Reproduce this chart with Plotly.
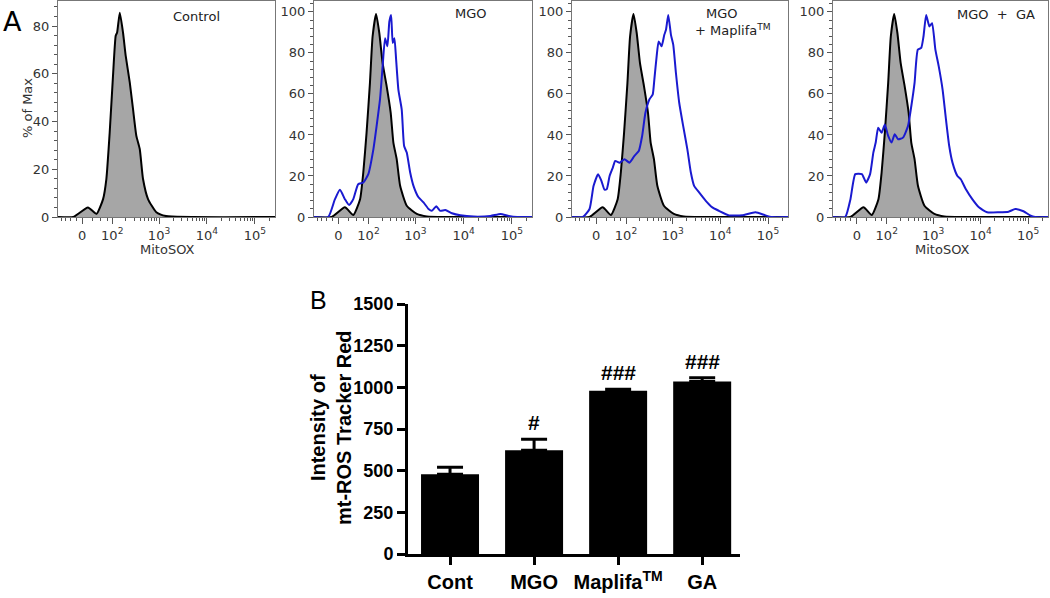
import numpy as np
import plotly.graph_objects as go

# ---- Panel A: MitoSOX histograms (% of max) ----
# x values are MitoSOX intensities, y values are % of max
control_alone_x = [-22, 14, 37, 59, 72, 87, 104, 120, 129, 148, 174, 199, 243, 285, 335, 395, 463, 589, 878, 1399]
control_alone_y = [0, 4.0, 1.3, 7.5, 15.9, 35.4, 59, 75.9, 77.3, 85.6, 77.3, 67.5, 56.4, 45.2, 34, 28.5, 15.9, 7.5, 2, 0.4]

control_x = [-16, 16, 39, 62, 75, 90, 108, 124, 148, 174, 205, 250, 304, 346, 406, 479, 658, 1064, 1720]
control_y = [0, 4.7, 1, 8.7, 21.7, 41, 65.4, 88, 99, 89.7, 75, 63.7, 50.8, 36.3, 28.2, 15.2, 5.5, 1.5, 0.3]

mgo_x = [-25, -8, 4, 16, 27, 39, 55, 75, 99, 129, 152, 180, 205, 231, 259, 285, 310, 335, 364, 395,
         441, 517, 580, 658, 775, 908, 1155, 1468, 1866, 2186, 2700, 3262, 4157, 5705, 8537, 16160,
         36000, 58160, 86600, 129000]
mgo_y = [0, 8.7, 13.3, 8.7, 5.8, 8.7, 16, 16.8, 20.9, 33, 44.3, 57.3, 73.4, 87.2, 83.2, 95.3, 98.5, 84.8,
         87.2, 76.7, 62, 52.4, 34.6, 31.4, 21.7, 15.2, 9.6, 7.1, 3.9, 3, 5.2, 3, 3.4, 1.8, 0.8, 0.2,
         0.5, 1.5, 0.5, 0]

maplifa_x = [-34, -16, -6, 5, 13, 21, 27, 35, 45, 53, 70, 92, 120, 155, 193, 228, 268, 325, 382, 414,
             463, 510, 589, 671, 728, 813, 925, 1033, 1177, 1379, 1671, 2044, 2417, 2832, 3600, 4965,
             6813, 9396, 15190, 28730, 54640, 88270, 121100]
maplifa_y = [0, 3.9, 15.2, 20.9, 17.6, 13.3, 13.6, 20, 24.1, 27.3, 26.5, 28.2, 26.5, 29.8, 32.2, 39.5,
             50.8, 57.3, 59.7, 67, 78.3, 85.6, 83.2, 88.8, 91.3, 98.5, 88.8, 84, 70.2, 55.7, 44.3, 33,
             21.7, 15.2, 12, 7.9, 4.7, 3, 0.8, 0.8, 2.3, 0.8, 0]

ga_x = [-30, -16, -4, 12, 23, 34, 44, 52, 61, 75, 90, 108, 129, 152, 180, 230, 294, 346, 406, 476, 561,
        627, 714, 837, 952, 1117, 1315, 1585, 1866, 2186, 2561, 3254, 3831, 4870, 6683, 9218, 13730,
        24060, 38870, 53600, 79820, 110100, 140000]
ga_y = [0, 8.7, 20.9, 20.9, 16.8, 20.9, 31.4, 36.3, 43.5, 41.1, 45.1, 39.5, 36.3, 40.3, 37.9, 38.7, 44.3,
        54, 65.4, 81.6, 82.4, 88, 98.5, 92.9, 94.5, 81.6, 73.4, 62.1, 47.6, 34.6, 26.5, 20, 18.4, 13.6,
        8.7, 4.7, 2.3, 2.3, 2.6, 3.9, 2.8, 0.8, 0]

x_tick_values = [0, 100, 1000, 10000, 100000]
x_tick_labels = ["0", "10<sup>2</sup>", "10<sup>3</sup>", "10<sup>4</sup>", "10<sup>5</sup>"]
x_minor_values = ([-60, -45, -30, -15, 25, 50, 75]
                  + [m * 10 ** k for k in (2, 3, 4) for m in range(2, 10)] + [200000])

# ---- Panel B: bar chart ----
bar_groups = ["<b>Cont</b>", "<b>MGO</b>", "<b>Maplifa<sup>TM</sup></b>", "<b>GA</b>"]
bar_values = [478, 622, 980, 1035]
bar_errors = [42, 66, 8, 22]
bar_marks = ["", "#", "###", "###"]
bar_y_ticks = [0, 250, 500, 750, 1000, 1250, 1500]

W, H = 1050, 598
W_LIN = 50  # width of the linear region of the arcsinh display
X_LOW, X_HIGH = -72, 262144


def to_display(v):
    """Arcsinh (biexponential-like) display transform, ~log10 for large values."""
    v = np.asarray(v, dtype=float)
    return np.log10((v + np.sqrt(v ** 2 + W_LIN ** 2)) / 2)


def px(x):
    return x / W


def py(y):
    return 1 - y / H


fig = go.Figure()

panels = [
    dict(dom=(58, 275), ymax=90.5, ctrl=(control_alone_x, control_alone_y), treat=None),
    dict(dom=(314, 532), ymax=105.3, ctrl=(control_x, control_y), treat=(mgo_x, mgo_y)),
    dict(dom=(572, 788), ymax=105.3, ctrl=(control_x, control_y), treat=(maplifa_x, maplifa_y)),
    dict(dom=(833, 1048), ymax=105.3, ctrl=(control_x, control_y), treat=(ga_x, ga_y)),
]

tick_font = dict(family="DejaVu Sans", size=13, color="#333")
for i, p in enumerate(panels):
    n = "" if i == 0 else str(i + 1)
    cx = [X_LOW] + list(p["ctrl"][0]) + [X_HIGH]
    cy = [0] + list(p["ctrl"][1]) + [0]
    fig.add_trace(go.Scatter(
        x=to_display(cx), y=cy, mode="lines", fill="tozeroy", fillcolor="#a6a6a6",
        line=dict(color="black", width=2, shape="spline", smoothing=0.5),
        xaxis="x" + n, yaxis="y" + n, showlegend=False,
    ))
    if p["treat"] is not None:
        tx = [X_LOW] + list(p["treat"][0]) + [X_HIGH]
        ty = [0] + list(p["treat"][1]) + [0]
        fig.add_trace(go.Scatter(
            x=to_display(tx), y=ty, mode="lines",
            line=dict(color="#1a1ad0", width=2, shape="spline", smoothing=0.5),
            xaxis="x" + n, yaxis="y" + n, showlegend=False,
        ))
    fig.update_layout({
        "xaxis" + n: dict(
            domain=[px(p["dom"][0]), px(p["dom"][1])], anchor="y" + n, automargin=False,
            range=[float(to_display(X_LOW)), float(to_display(X_HIGH))],
            tickmode="array", tickvals=to_display(x_tick_values), ticktext=x_tick_labels,
            ticks="outside", ticklen=6, tickcolor="#555", tickfont=tick_font,
            minor=dict(tickmode="array", tickvals=to_display(x_minor_values),
                       ticks="outside", ticklen=3, tickcolor="#555"),
            showline=True, mirror=True, linecolor="#777", linewidth=1,
            showgrid=False, zeroline=False, fixedrange=True,
        ),
        "yaxis" + n: dict(
            domain=[py(217), py(1)], anchor="x" + n, range=[0, p["ymax"]], automargin=False,
            tickmode="array", tickvals=[0, 20, 40, 60, 80, 100],
            ticks="outside", ticklen=5, tickcolor="#555", tickfont=tick_font,
            minor=dict(tickmode="linear", tick0=0, dtick=4, ticks="outside",
                       ticklen=3, tickcolor="#555"),
            showline=True, mirror=True, linecolor="#777", linewidth=1,
            showgrid=False, zeroline=False, fixedrange=True,
        ),
    })

# bar chart
fig.add_trace(go.Bar(
    x=list(range(len(bar_values))), y=bar_values, width=0.69,
    marker=dict(color="black", line=dict(width=0)),
    error_y=dict(type="data", array=bar_errors, arrayminus=[0] * len(bar_errors),
                 color="black", thickness=3, width=13),
    xaxis="x5", yaxis="y5", showlegend=False,
))
arial = "Liberation Sans, Arial"
fig.update_layout(
    xaxis5=dict(
        domain=[px(408), px(740)], anchor="y5", range=[-0.5, 3.45], automargin=False,
        tickmode="array", tickvals=list(range(len(bar_groups))), ticktext=bar_groups,
        tickfont=dict(family=arial, size=20, color="black"),
        ticks="outside", ticklen=8, tickwidth=3, tickcolor="black",
        showline=True, linecolor="black", linewidth=3,
        showgrid=False, zeroline=False, fixedrange=True,
    ),
    yaxis5=dict(
        domain=[py(554), py(304)], anchor="x5", range=[0, 1500], automargin=False,
        tickmode="array", tickvals=bar_y_ticks,
        ticktext=["<b>%d</b>" % t for t in bar_y_ticks],
        tickfont=dict(family=arial, size=18, color="black"),
        ticks="outside", ticklen=8, tickwidth=3, tickcolor="black",
        showline=True, linecolor="black", linewidth=3,
        showgrid=False, zeroline=False, fixedrange=True,
    ),
)

for i, mark in enumerate(bar_marks):
    if mark:
        fig.add_annotation(
            x=i, y=bar_values[i] + bar_errors[i], xref="x5", yref="y5", text="<b>%s</b>" % mark,
            showarrow=False, yanchor="bottom", yshift=3,
            font=dict(family=arial, size=21, color="black"),
        )

# text annotations
label_font = dict(family="DejaVu Sans", size=13, color="#222")
small_font = dict(family="DejaVu Sans", size=13, color="#333")
notes = [
    ("A", 12, 22, dict(family="DejaVu Sans", size=27, color="black"), 0),
    ("B", 318, 300, dict(family=arial, size=25, color="black"), 0),
    ("Control", 196, 17, label_font, 0),
    ("MGO", 471, 14, label_font, 0),
    ("MGO", 722, 14, label_font, 0),
    ("+ Maplifa<sup>TM</sup>", 733, 30, label_font, 0),
    ("MGO  +  GA", 996, 15, label_font, 0),
    ("% of Max", 27, 108, small_font, -90),
    ("MitoSOX", 167, 250, small_font, 0),
    ("MitoSOX", 942, 250, small_font, 0),
    ("<b>Intensity of<br>mt-ROS Tracker Red</b>", 331, 428,
     dict(family=arial, size=20, color="black"), -90),
]
for text, x, y, font, angle in notes:
    fig.add_annotation(x=px(x), y=py(y), xref="paper", yref="paper", text=text,
                       showarrow=False, font=font, textangle=angle,
                       xanchor="center", yanchor="middle")

fig.update_layout(
    template="none", width=W, height=H, margin=dict(l=0, r=0, t=0, b=0),
    paper_bgcolor="white", plot_bgcolor="white",
)

# drop the default page margin so the figure fills the window exactly
fig.write_html("out.html", config={"displayModeBar": False},
               post_script="document.body.style.margin = '0';")
